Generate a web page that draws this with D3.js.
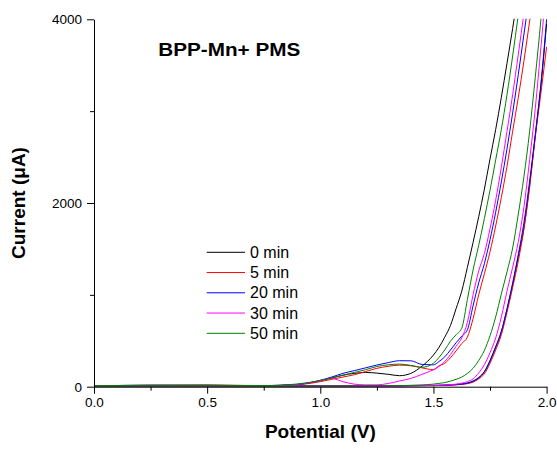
<!DOCTYPE html>
<html>
<head>
<meta charset="utf-8">
<script src="https://cdn.jsdelivr.net/npm/d3@7"></script>
<style>
  html, body { margin: 0; padding: 0; background: #fff; }
  svg { display: block; font-family: "Liberation Sans", Arial, sans-serif; }
</style>
</head>
<body>
<svg id="chart" width="557" height="450"></svg>
<script>
// ---------- data ----------
const potential = [0, 0.25, 0.5, 0.75, 0.9, 1.0, 1.05, 1.1, 1.15, 1.2, 1.25, 1.3, 1.35, 1.4, 1.45, 1.5, 1.525, 1.55, 1.575, 1.6, 1.625, 1.65, 1.675, 1.7, 1.725, 1.75, 1.775, 1.8, 1.825, 1.85, 1.875, 1.9, 1.925, 1.95, 1.975, 2.0];

const seriesNames = ["0 min", "5 min", "20 min", "30 min", "50 min"];
const seriesColors = ["#000000", "#ff0000", "#0000ff", "#ff00ff", "#008000"];

// forward (anodic) scan, 0 -> 2.0 V
const fwd0 = [5,8,8,5,8,8,8,8,8,8,8,10,10,12,13,15,16,18,21,24,30,40,62,100,165,285,435,600,840,1110,1420,1730,2200,2730,3280,3950];
const fwd5 = [5,8,8,5,8,8,8,8,8,8,8,9,9,10,11,12,13,15,17,20,25,33,50,85,140,255,400,565,810,1080,1370,1720,2170,2720,3200,3700];
const fwd20 = [5,8,8,5,8,8,8,8,8,8,8,9,9,10,11,12,13,15,18,22,28,38,58,95,160,280,430,600,850,1130,1440,1790,2240,2750,3300,4000];
const fwd30 = [5,8,8,5,8,8,8,8,8,8,8,9,10,11,12,14,16,18,22,28,38,55,85,150,240,370,530,760,1040,1300,1580,1960,2470,3030,3700,4400];
const fwd50 = [5,8,8,5,8,8,8,8,8,9,10,11,12,15,20,28,36,45,60,80,105,145,200,285,395,555,760,1010,1250,1510,1880,2290,2780,3370,4000,4700];

// reverse scan, 2.0 -> 0 V (listed in ascending potential)
const rev0 = [10,15,15,10,25,65,95,125,145,155,148,135,120,145,225,345,430,540,665,850,1040,1300,1570,1850,2150,2480,2800,3150,3520,3900,4300,4700,5100,5500,5900,6300];
const rev5 = [10,15,18,12,22,55,80,105,130,165,200,222,235,228,205,185,228,255,315,390,470,540,740,1000,1230,1470,1750,2060,2400,2780,3150,3550,3980,4400,4850,5300];
const rev20 = [10,15,15,12,25,70,105,145,175,205,236,262,283,282,242,238,275,325,400,478,550,620,880,1130,1340,1600,1900,2230,2590,2980,3400,3840,4280,4750,5200,5700];
const rev30 = [10,15,12,8,25,65,90,55,28,20,20,35,62,90,135,185,220,275,350,440,530,700,1000,1260,1450,1720,2030,2390,2780,3180,3620,4070,4530,5000,5450,5900];
const rev50 = [10,15,15,12,30,68,95,125,155,185,220,238,246,232,212,255,320,400,495,565,636,950,1270,1540,1830,2140,2470,2800,3180,3600,4050,4500,4920,5350,5800,6200];

const forwardScans = [fwd0, fwd5, fwd20, fwd30, fwd50];
const reverseScans = [rev0, rev5, rev20, rev30, rev50];

const xMajorTicks = [0, 0.5, 1.0, 1.5, 2.0];
const xMinorTicks = [0.25, 0.75, 1.25, 1.75];
const yMajorTicks = [0, 2000, 4000];
const yMinorTicks = [1000, 3000];

const chartTitle = "BPP-Mn+ PMS";
const xTitle = "Potential (V)";
const yTitle = "Current (\u03BCA)";

// ---------- layout ----------
const mLeft = 94, mRight = 546.6, mTop = 19.3, mBottom = 386.7;
const svg = d3.select("#chart");

const x = d3.scaleLinear().domain([0, 2]).range([mLeft, mRight]);
const y = d3.scaleLinear().domain([0, 4000]).range([mBottom, mTop]);

svg.append("defs").append("clipPath").attr("id", "plotclip")
  .append("rect").attr("x", mLeft).attr("y", mTop - 0.5)
  .attr("width", mRight - mLeft + 1).attr("height", mBottom - mTop + 1);

// ---------- curves ----------
const line = d3.line()
  .x(d => x(d[0]))
  .y(d => y(d[1]))
  .curve(d3.curveMonotoneX);

const plot = svg.append("g").attr("clip-path", "url(#plotclip)");
seriesNames.forEach((name, i) => {
  const fw = potential.map((v, k) => [v, forwardScans[i][k]]);
  const rv = potential.map((v, k) => [v, reverseScans[i][k]]);
  [fw, rv].forEach(pts => {
    plot.append("path")
      .attr("d", line(pts))
      .attr("fill", "none")
      .attr("stroke", seriesColors[i])
      .attr("stroke-width", 1);
  });
});

// ---------- axes ----------
const tickFont = "13.5px";

svg.append("g").attr("transform", `translate(${mLeft},0)`)
  .call(d3.axisLeft(y).tickValues(yMajorTicks).tickSize(7).tickSizeOuter(0)
    .tickPadding(5).tickFormat(d3.format("d")));
svg.append("g").attr("transform", `translate(${mLeft},0)`)
  .call(d3.axisLeft(y).tickValues(yMinorTicks).tickSize(4).tickFormat(""))
  .call(g => g.select(".domain").remove());

svg.append("g").attr("transform", `translate(0,${mBottom})`)
  .call(d3.axisBottom(x).tickValues(xMajorTicks).tickSize(7).tickSizeOuter(0)
    .tickPadding(4).tickFormat(d3.format(".1f")));
svg.append("g").attr("transform", `translate(0,${mBottom})`)
  .call(d3.axisBottom(x).tickValues(xMinorTicks).tickSize(4).tickFormat(""))
  .call(g => g.select(".domain").remove());

svg.selectAll(".tick text")
  .attr("font-family", "Liberation Sans, Arial, sans-serif")
  .attr("font-size", tickFont)
  .attr("fill", "#000");
svg.selectAll(".domain, .tick line").attr("stroke", "#000").attr("stroke-width", 1);

// ---------- titles ----------
svg.append("text")
  .attr("x", 158.3).attr("y", 56)
  .attr("font-size", "19px").attr("font-weight", "bold")
  .attr("textLength", 142).attr("lengthAdjust", "spacingAndGlyphs")
  .text(chartTitle);

svg.append("text")
  .attr("x", (mLeft + mRight) / 2).attr("y", 438)
  .attr("text-anchor", "middle")
  .attr("font-size", "19px").attr("font-weight", "bold")
  .text(xTitle);

svg.append("text")
  .attr("transform", `translate(25,${(mTop + mBottom) / 2}) rotate(-90)`)
  .attr("text-anchor", "middle")
  .attr("font-size", "19px").attr("font-weight", "bold")
  .text(yTitle);

// ---------- legend ----------
const legend = svg.append("g");
seriesNames.forEach((name, i) => {
  const ly = 252.3 + i * 20.25;
  legend.append("line")
    .attr("x1", 206.7).attr("x2", 245)
    .attr("y1", ly).attr("y2", ly)
    .attr("stroke", seriesColors[i]).attr("stroke-width", 1);
  legend.append("text")
    .attr("x", 250).attr("y", ly)
    .attr("dy", "0.35em")
    .attr("font-size", "16px")
    .text(name);
});
</script>
</body>
</html>
